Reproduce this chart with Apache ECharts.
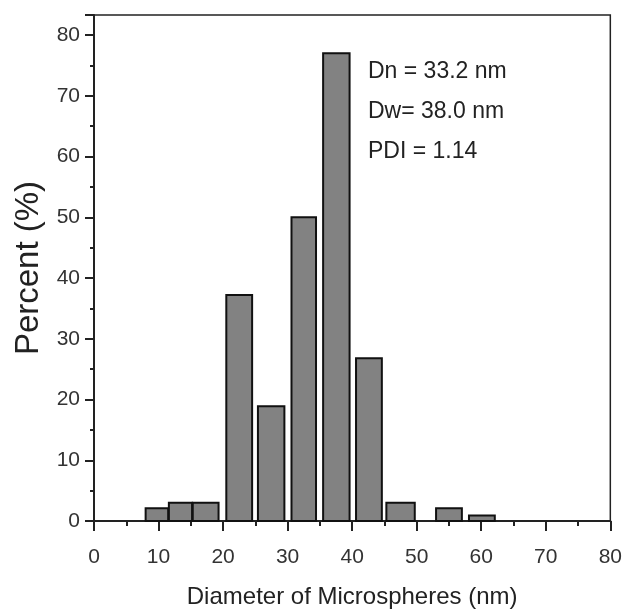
<!DOCTYPE html>
<html>
<head>
<meta charset="utf-8">
<script src="https://cdn.jsdelivr.net/npm/echarts@6/dist/echarts.min.js"></script>
<style>
html, body { margin: 0; padding: 0; background: #fff; }
#chart { width: 625px; height: 616px; }
</style>
</head>
<body>
<div id="chart"></div>
<script>
// histogram bins (nm) and percentages
var binLeft  = [8.0, 11.6, 15.3, 20.5, 25.4, 30.6, 35.5, 40.6, 45.3, 53.0, 58.1];
var binRight = [11.5, 15.2, 19.3, 24.5, 29.5, 34.4, 39.6, 44.6, 49.7, 57.0, 62.1];
var percent  = [2.1, 3.0, 3.0, 37.2, 18.9, 50.0, 77.0, 26.8, 3.0, 2.1, 0.9];
var statLines = ['Dn = 33.2 nm', 'Dw= 38.0 nm', 'PDI = 1.14'];

var hist_data = [];
for (var i = 0; i < percent.length; ++i) {
    hist_data.push([binLeft[i], binRight[i], percent[i]]);
}

var font = '"Liberation Sans", Arial, sans-serif';

var option = {
    animation: false,
    backgroundColor: '#fff',
    grid: {
        left: 94,
        right: 13,
        top: 15,
        bottom: 95,
        show: true,
        borderColor: '#222',
        borderWidth: 1.5
    },
    xAxis: {
        type: 'value',
        min: 0,
        max: 80,
        interval: 10,
        name: 'Diameter of Microspheres (nm)',
        nameLocation: 'middle',
        nameGap: 64,
        nameTextStyle: { fontFamily: font, fontSize: 24, color: '#222' },
        axisLine: { lineStyle: { color: '#222', width: 2 } },
        axisTick: { inside: false, length: 10, lineStyle: { color: '#222', width: 2 } },
        minorTick: { show: true, splitNumber: 2, length: 5, lineStyle: { color: '#222', width: 2 } },
        axisLabel: { margin: 26, fontFamily: font, fontSize: 21, color: '#333' },
        splitLine: { show: false }
    },
    yAxis: {
        type: 'value',
        min: 0,
        max: 83.3,
        interval: 10,
        name: 'Percent (%)',
        nameLocation: 'middle',
        nameGap: 48,
        nameTextStyle: { fontFamily: font, fontSize: 33, color: '#222' },
        axisLine: { show: true, lineStyle: { color: '#222', width: 2 } },
        axisTick: { inside: false, length: 9, lineStyle: { color: '#222', width: 2 } },
        minorTick: { show: true, splitNumber: 2, length: 4, lineStyle: { color: '#222', width: 2 } },
        axisLabel: { margin: 14, showMaxLabel: false, fontFamily: font, fontSize: 21, color: '#333' },
        splitLine: { show: false }
    },
    series: [{
        type: 'custom',
        data: hist_data,
        encode: { x: [0, 1], y: 2 },
        renderItem: function (params, api) {
            var p0 = api.coord([api.value(0), 0]);
            var p1 = api.coord([api.value(1), api.value(2)]);
            return {
                type: 'rect',
                shape: { x: p0[0], y: p1[1], width: p1[0] - p0[0], height: p0[1] - p1[1] },
                style: { fill: '#828282', stroke: '#111', lineWidth: 2 }
            };
        }
    }],
    graphic: statLines.map(function (t, k) {
        return {
            type: 'text',
            left: 368,
            top: 60 + k * 40,
            style: { text: t, fontFamily: font, fontSize: 23, fill: '#222' }
        };
    })
};

var chart = echarts.init(document.getElementById('chart'));
chart.setOption(option);
</script>
</body>
</html>
